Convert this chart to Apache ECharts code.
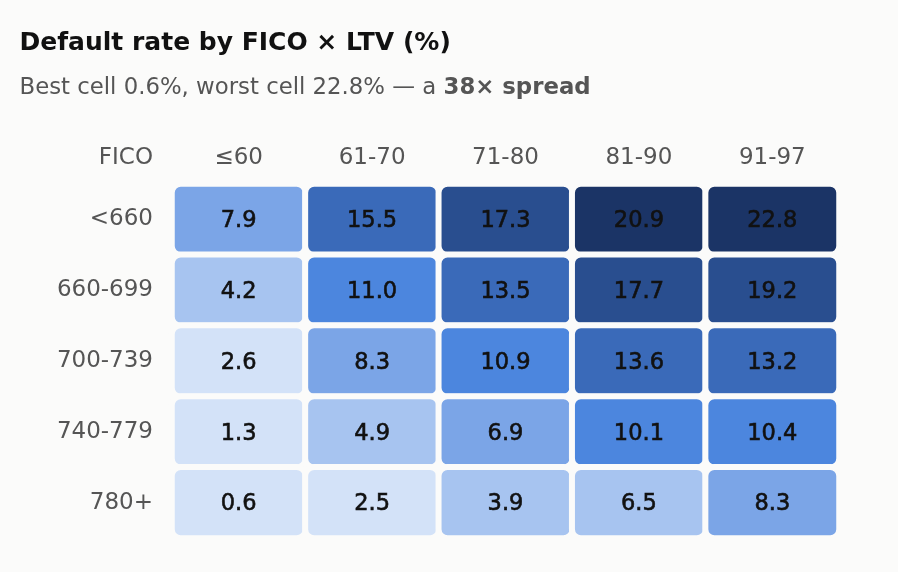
<!DOCTYPE html>
<html>
<head>
<meta charset="utf-8">
<script src="https://cdn.jsdelivr.net/npm/echarts@6/dist/echarts.min.js"></script>
<style>
html,body{margin:0;padding:0;background:#fbfbfa;}
#c{width:898px;height:572px;}
</style>
</head>
<body>
<div id="c"></div>
<script>
const ltvBands = ['≤60', '61-70', '71-80', '81-90', '91-97'];
const ficoBands = ['<660', '660-699', '700-739', '740-779', '780+'];
const rowLt660 = [7.9, 15.5, 17.3, 20.9, 22.8];
const row660 = [4.2, 11.0, 13.5, 17.7, 19.2];
const row700 = [2.6, 8.3, 10.9, 13.6, 13.2];
const row740 = [1.3, 4.9, 6.9, 10.1, 10.4];
const row780 = [0.6, 2.5, 3.9, 6.5, 8.3];
const rows = [rowLt660, row660, row700, row740, row780];

const data = [];
rows.forEach((r, yi) => r.forEach((v, xi) => data.push([xi, yi, v])));

const font = '"DejaVu Sans", "Noto Sans", sans-serif';
const chart = echarts.init(document.getElementById('c'));
chart.setOption({
  backgroundColor: '#fbfbfa',
  title: {
    left: 19.5, top: 28.5, padding: 0,
    text: 'Default rate by FICO × LTV (%)',
    textStyle: {fontFamily: font, fontSize: 25, fontWeight: 'bold', color: '#111', lineHeight: 30},
    subtext: 'Best cell 0.6%, worst cell 22.8% — a {b|38× spread}',
    subtextStyle: {fontFamily: font, fontSize: 22.8, color: '#555', lineHeight: 24,
      rich: {b: {fontFamily: font, fontSize: 22.8, fontWeight: 'bold', color: '#555', lineHeight: 24}}},
    itemGap: 18
  },
  grid: {left: 172, right: 59, top: 184, bottom: 34},
  xAxis: {
    type: 'category', data: ltvBands, position: 'top',
    axisLine: {show: false}, axisTick: {show: false}, splitLine: {show: false},
    axisLabel: {fontFamily: font, fontSize: 23, color: '#555', margin: 14}
  },
  yAxis: {
    type: 'category', data: ficoBands, inverse: true,
    axisLine: {show: false}, axisTick: {show: false}, splitLine: {show: false},
    axisLabel: {fontFamily: font, fontSize: 23, color: '#555', margin: 19, padding: [0, 0, 4, 0]}
  },
  graphic: [{
    type: 'text', x: 153, y: 158.5,
    style: {text: 'FICO', fontFamily: font, fontSize: 23, fill: '#555', align: 'right', verticalAlign: 'middle'}
  }],
  visualMap: {
    type: 'piecewise', show: false, dimension: 2,
    pieces: [
      {min: 0, max: 3, color: '#d3e2f8'},
      {min: 3, max: 6.7, color: '#a7c4f0'},
      {min: 6.7, max: 10, color: '#7ba5e7'},
      {min: 10, max: 13, color: '#4c86de'},
      {min: 13, max: 17, color: '#3a6ab9'},
      {min: 17, max: 20, color: '#294e8f'},
      {min: 20, max: 100, color: '#1b3466'}
    ]
  },
  series: [{
    type: 'heatmap', data: data,
    itemStyle: {borderColor: '#fbfbfa', borderWidth: 6, borderRadius: 9},
    label: {show: true, fontFamily: font, fontSize: 22.5, color: '#111',
      textBorderColor: '#111', textBorderWidth: 0.6, offset: [0, 2],
      formatter: p => p.value[2].toFixed(1)},
    emphasis: {disabled: true}
  }]
});
</script>
</body>
</html>
